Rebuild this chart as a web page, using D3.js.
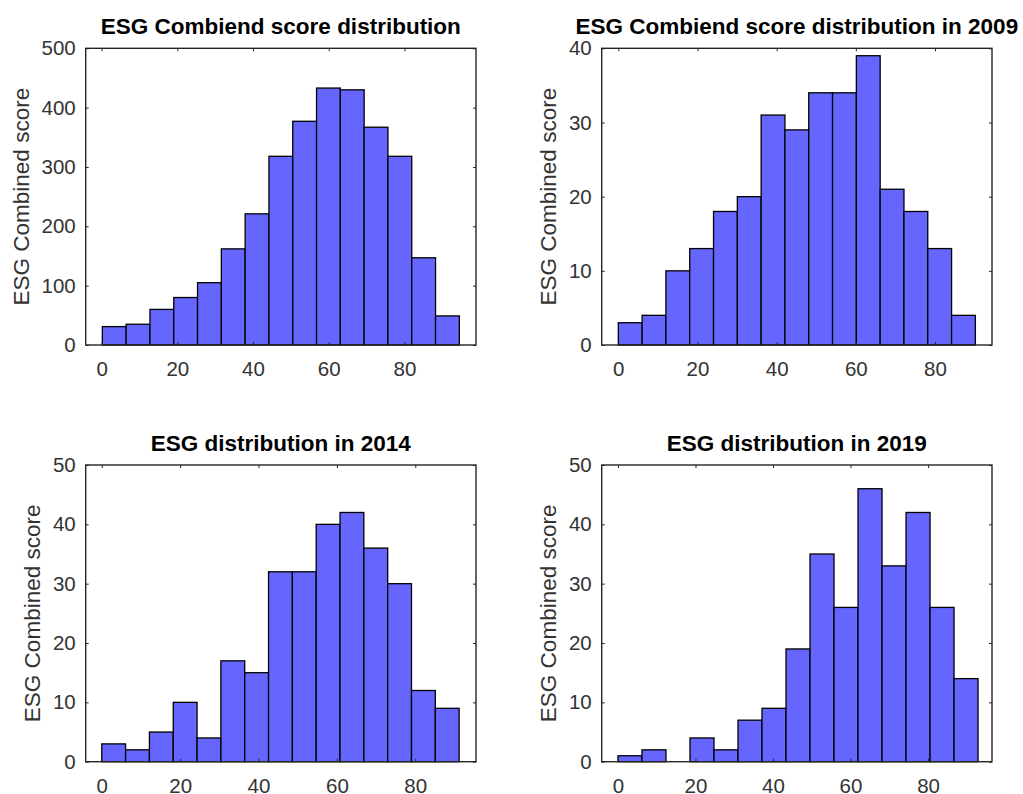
<!DOCTYPE html>
<html>
<head>
<meta charset="utf-8">
<script src="https://cdn.jsdelivr.net/npm/d3@7"></script>
<style>
	body { margin: 0; background: #fff; }
	svg { display: block; font-family: "Liberation Sans", Arial, Helvetica, sans-serif; }
</style>
</head>
<body>
<div id="chart-area"></div>
<script>
// counts per bin
var overallCounts = [31, 35, 60, 80, 105, 162, 221, 318, 377, 433, 430, 367, 318, 147, 49];
var counts2009 = [3, 4, 10, 13, 18, 20, 31, 29, 34, 34, 39, 21, 18, 13, 4];
var counts2014 = [3, 2, 5, 10, 4, 17, 15, 32, 32, 40, 42, 36, 30, 12, 9];
var counts2019 = [1, 2, 0, 4, 2, 7, 9, 19, 35, 26, 46, 33, 42, 26, 14];

// first and last bin edge (equal width bins in between)
var overallRange = [0.2, 94.5];
var range2009 = [0, 90.2];
var range2014 = [0, 91.2];
var range2019 = [0, 92.9];

var xTicks = [0, 20, 40, 60, 80];
var yTicksOverall = [0, 100, 200, 300, 400, 500];
var yTicks40 = [0, 10, 20, 30, 40];
var yTicks50 = [0, 10, 20, 30, 40, 50];

var titles = [
	"ESG Combiend score distribution",
	"ESG Combiend score distribution in 2009",
	"ESG distribution in 2014",
	"ESG distribution in 2019"
];
var yLabel = "ESG Combined score";

var panels = [
	{ title: titles[0], counts: overallCounts, range: overallRange, xLim: [-4.2, 98.9], yTicks: yTicksOverall, left: 85.7, top: 48.3 },
	{ title: titles[1], counts: counts2009, range: range2009, xLim: [-4.2, 94.4], yTicks: yTicks40, left: 601.7, top: 48.3 },
	{ title: titles[2], counts: counts2014, range: range2014, xLim: [-4.1, 95.5], yTicks: yTicks50, left: 85.7, top: 465 },
	{ title: titles[3], counts: counts2019, range: range2019, xLim: [-4.2, 96.5], yTicks: yTicks50, left: 601.7, top: 465 }
];

var width = 390.3;
var height = 296.7;
var axisColor = "#262626";

var svg = d3.select("#chart-area")
	.append("svg")
	.attr("width", 1023)
	.attr("height", 794);

panels.forEach(p => {
	var g = svg.append("g")
		.attr("transform", "translate(" + p.left + ", " + p.top + ")");

	// SCALES
	var x = d3.scaleLinear()
		.domain(p.xLim)
		.range([0, width]);
	var y = d3.scaleLinear()
		.domain([0, p.yTicks[p.yTicks.length - 1]])
		.range([height, 0]);

	// bins
	var binW = (p.range[1] - p.range[0]) / p.counts.length;
	var bins = p.counts.map((c, i) => ({
		x0: p.range[0] + i * binW,
		x1: p.range[0] + (i + 1) * binW,
		count: c
	})).filter(d => d.count > 0);

	g.selectAll("rect.bar")
		.data(bins)
		.enter()
		.append("rect")
		.attr("class", "bar")
		.attr("x", d => x(d.x0))
		.attr("y", d => y(d.count))
		.attr("width", d => x(d.x1) - x(d.x0))
		.attr("height", d => y(0) - y(d.count))
		.attr("fill", "#6666ff")
		.attr("stroke", "#000")
		.attr("stroke-width", 1.3);

	// X Axis
	var xAxisCall = d3.axisBottom(x)
		.tickValues(xTicks)
		.tickSize(-3)
		.tickPadding(16.5);
	var xAxis = g.append("g")
		.attr("transform", "translate(0, " + height + ")")
		.call(xAxisCall);
	// Y Axis
	var yAxisCall = d3.axisLeft(y)
		.tickValues(p.yTicks)
		.tickSize(-3)
		.tickPadding(10);
	var yAxis = g.append("g")
		.call(yAxisCall);
	// mirrored ticks on top and right
	var topAxis = g.append("g")
		.call(d3.axisTop(x).tickValues(xTicks).tickSize(-3).tickFormat(""));
	var rightAxis = g.append("g")
		.attr("transform", "translate(" + width + ", 0)")
		.call(d3.axisRight(y).tickValues(p.yTicks).tickSize(-3).tickFormat(""));

	[xAxis, yAxis, topAxis, rightAxis].forEach(a => {
		a.select(".domain").remove();
		a.selectAll(".tick line").attr("stroke", axisColor).attr("stroke-width", 1);
		a.selectAll("text")
			.attr("fill", "#333")
			.attr("font-size", "20.5px")
			.attr("font-family", null);
	});

	// box
	g.append("rect")
		.attr("width", width)
		.attr("height", height)
		.attr("fill", "none")
		.attr("stroke", axisColor)
		.attr("stroke-width", 1.4);

	// LABELS
	g.append("text")
		.attr("x", width / 2)
		.attr("y", -14.5)
		.attr("text-anchor", "middle")
		.attr("font-size", "22.5px")
		.attr("font-weight", "bold")
		.attr("fill", "#000")
		.text(p.title);

	var maxW = d3.max(yAxis.selectAll("text").nodes(), n => n.getBBox().width);
	g.append("text")
		.attr("transform", "translate(" + (-(10 + maxW + 12.5)) + ", " + (height / 2) + ") rotate(-90)")
		.attr("text-anchor", "middle")
		.attr("font-size", "22.5px")
		.attr("fill", "#333")
		.text(yLabel);
});
</script>
</body>
</html>
